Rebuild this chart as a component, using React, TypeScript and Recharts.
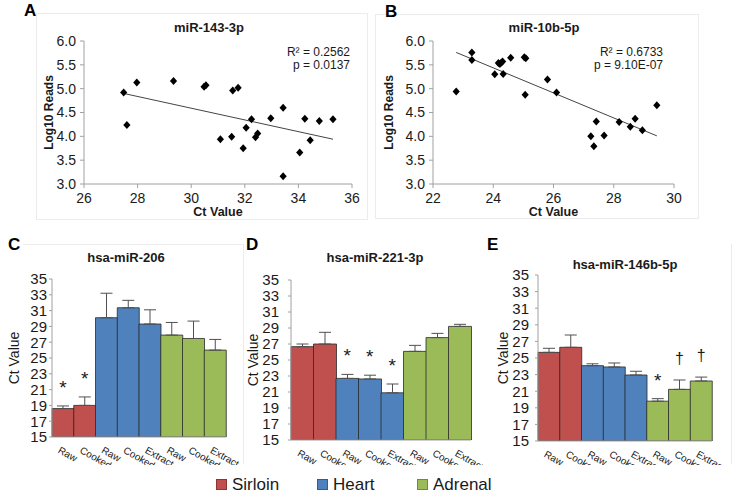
import React from "react";
import {
  ScatterChart,
  Scatter,
  ComposedChart,
  Bar,
  Cell,
  ErrorBar,
  XAxis,
  YAxis,
  ReferenceLine,
} from "recharts";

// ---- panel A: miR-143-3p ----
const miR143Ct = [27.48, 27.6, 27.97, 29.34, 30.48, 30.55, 31.55, 31.75, 31.09, 31.51, 31.94, 32.05, 32.25, 32.4, 32.48, 32.97, 33.43, 33.43, 34.05, 34.24, 34.44, 34.78, 35.29];
const miR143Reads = [4.92, 4.24, 5.13, 5.16, 5.04, 5.07, 4.96, 5.02, 3.94, 3.99, 3.75, 4.18, 4.36, 3.98, 4.06, 4.38, 4.6, 3.16, 3.66, 4.37, 3.92, 4.32, 4.36];
const miR143Trend = [
  { x: 27.48, y: 4.9 },
  { x: 35.29, y: 3.94 },
];
const miR143Stats = ["R² = 0.2562", "p = 0.0137"];

// ---- panel B: miR-10b-5p ----
const miR10bCt = [22.77, 23.29, 23.29, 24.05, 24.17, 24.22, 24.27, 24.31, 24.33, 24.58, 25.03, 25.08, 25.06, 25.8, 26.1, 27.24, 27.34, 27.42, 27.68, 28.18, 28.55, 28.71, 28.95, 29.43];
const miR10bReads = [4.94, 5.76, 5.6, 5.3, 5.54, 5.52, 5.55, 5.57, 5.31, 5.65, 5.66, 5.64, 4.87, 5.19, 4.92, 4.0, 3.79, 4.31, 4.02, 4.3, 4.2, 4.37, 4.13, 4.65];
const miR10bTrend = [
  { x: 22.77, y: 5.76 },
  { x: 29.43, y: 4.01 },
];
const miR10bStats = ["R² = 0.6733", "p = 9.10E-07"];

const readsTicks = [3.0, 3.5, 4.0, 4.5, 5.0, 5.5, 6.0];

// ---- bar panels C, D, E ----
const prepLabels = ["Raw", "Cooked", "Raw", "Cooked", "Extract", "Raw", "Cooked", "Extract"];
const tissueOf = ["Sirloin", "Sirloin", "Heart", "Heart", "Heart", "Adrenal", "Adrenal", "Adrenal"];
const tissues = ["Sirloin", "Heart", "Adrenal"];
const ctTicks = [15, 17, 19, 21, 23, 25, 27, 29, 31, 33, 35];

const miR206Mean = [18.6, 19.0, 30.1, 31.36, 29.3, 27.9, 27.47, 26.0];
const miR206Err = [0.33, 1.07, 3.1, 0.94, 1.8, 1.6, 2.2, 1.35];
const miR206Marks = ["*", "*", "", "", "", "", "", ""];

const miR221Mean = [26.67, 27.0, 22.7, 22.63, 20.9, 26.08, 27.8, 29.2];
const miR221Err = [0.33, 1.46, 0.5, 0.47, 1.1, 0.75, 0.53, 0.26];
const miR221Marks = ["", "", "*", "*", "*", "", "", ""];

const miR146Mean = [25.68, 26.29, 24.08, 23.92, 22.95, 19.8, 21.22, 22.23];
const miR146Err = [0.49, 1.48, 0.22, 0.48, 0.45, 0.3, 1.13, 0.47];
const miR146Marks = ["", "", "", "", "", "*", "†", "†"];

const FONT = '"Liberation Sans", Arial, Helvetica, sans-serif';
const tissueColor: Record<string, string> = {
  Sirloin: "#c0504d",
  Heart: "#4f81bd",
  Adrenal: "#9bbb59",
};
const legendBorder: Record<string, string> = {
  Sirloin: "#8c3532",
  Heart: "#355d8c",
  Adrenal: "#6f8a3b",
};
const axisGray = "#a0a0a0";

const Diamond = (props: any) => {
  const { cx, cy } = props;
  if (cx == null || cy == null) return <g />;
  return (
    <polygon
      points={`${cx},${cy - 4} ${cx + 3.6},${cy} ${cx},${cy + 4} ${cx - 3.6},${cy}`}
      fill="#000"
    />
  );
};

function ScatterPanel(props: {
  left: number;
  top: number;
  width: number;
  height: number;
  xs: number[];
  ys: number[];
  xTicks: number[];
  trend: { x: number; y: number }[];
  yAxisWidth: number;
  right: number;
  labelOffset: number;
}) {
  const data = props.xs.map((x, i) => ({ x, y: props.ys[i] }));
  const xDomain = [props.xTicks[0], props.xTicks[props.xTicks.length - 1]];
  return (
    <div style={{ position: "absolute", left: props.left, top: props.top }}>
      <ScatterChart
        width={props.width}
        height={props.height}
        margin={{ top: 28, right: props.right, bottom: 0, left: 0 }}
      >
        <XAxis
          type="number"
          dataKey="x"
          domain={xDomain}
          ticks={props.xTicks}
          interval={0}
          height={35}
          tick={{ fill: "#1a1a1a", fontSize: 14, fontFamily: FONT }}
          tickSize={4}
          tickMargin={5}
          axisLine={{ stroke: axisGray }}
          tickLine={{ stroke: axisGray }}
          label={{
            value: "Ct Value",
            position: "insideBottom",
            offset: 3,
            style: { fontSize: 12.5, fontWeight: "bold", fill: "#1a1a1a", fontFamily: FONT },
          }}
        />
        <YAxis
          type="number"
          dataKey="y"
          domain={[3, 6]}
          ticks={readsTicks}
          interval={0}
          width={props.yAxisWidth}
          tickFormatter={(v: number) => v.toFixed(1)}
          tick={{ fill: "#1a1a1a", fontSize: 14, fontFamily: FONT }}
          tickSize={4}
          tickMargin={4}
          axisLine={{ stroke: axisGray }}
          tickLine={{ stroke: axisGray }}
          label={{
            value: "Log10 Reads",
            angle: -90,
            position: "insideLeft",
            offset: props.labelOffset,
            style: { textAnchor: "middle", fontSize: 12, fontWeight: "bold", fill: "#1a1a1a", fontFamily: FONT },
          }}
        />
        <ReferenceLine
          segment={props.trend}
          stroke="#444"
          strokeWidth={1}
          ifOverflow="visible"
        />
        <Scatter data={data} shape={<Diamond />} isAnimationActive={false} />
      </ScatterChart>
    </div>
  );
}

const PrepTick = (props: any) => {
  const { x, y, payload } = props;
  return (
    <g transform={`translate(${x - 2},${y + 1}) rotate(30)`}>
      <text x={0} y={0} dy="0.71em" textAnchor="start" fontSize={10} fill="#1a1a1a" fontFamily={FONT}>
        {prepLabels[payload.value]}
      </text>
    </g>
  );
};

const MarkShape = (props: any) => {
  const { cx, cy, payload } = props;
  if (!payload || !payload.mark || cx == null || cy == null) return <g />;
  const dagger = payload.mark === "†";
  return (
    <text
      x={cx}
      y={dagger ? cy - 16 : cy - 12}
      textAnchor="middle"
      fontSize={dagger ? 16 : 19}
      fill="#1a1a1a"
      fontFamily={FONT}
    >
      {payload.mark}
    </text>
  );
};

function BarPanel(props: {
  left: number;
  top: number;
  width: number;
  height: number;
  means: number[];
  errs: number[];
  marks: string[];
  margin: { top: number; right: number; bottom: number; left: number };
  yAxisWidth: number;
  xAxisHeight: number;
  tickMargin: number;
  labelOffset: number;
}) {
  const data = props.means.map((m, i) => ({
    slot: i,
    mean: m,
    errRange: [0, props.errs[i]],
    top: m + props.errs[i],
    mark: props.marks[i],
  }));
  return (
    <div style={{ position: "absolute", left: props.left, top: props.top }}>
      <ComposedChart
        width={props.width}
        height={props.height}
        data={data}
        margin={props.margin}
        barCategoryGap={0}
        barGap={0}
      >
        <XAxis
          dataKey="slot"
          type="category"
          height={props.xAxisHeight}
          tick={<PrepTick />}
          tickLine={false}
          interval={0}
          axisLine={{ stroke: axisGray }}
        />
        <YAxis
          type="number"
          domain={[15, 35]}
          ticks={ctTicks}
          interval={0}
          width={props.yAxisWidth}
          tick={{ fill: "#1a1a1a", fontSize: 15, fontFamily: FONT }}
          tickSize={3}
          tickMargin={props.tickMargin}
          axisLine={{ stroke: axisGray }}
          tickLine={{ stroke: axisGray }}
          allowDataOverflow
          label={{
            value: "Ct Value",
            angle: -90,
            position: "insideLeft",
            offset: props.labelOffset,
            style: { textAnchor: "middle", fontSize: 14, fill: "#1a1a1a", fontFamily: FONT },
          }}
        />
        <Bar dataKey="mean" stroke="#2a2a2a" strokeWidth={0.8} isAnimationActive={false}>
          {data.map((d) => (
            <Cell key={d.slot} fill={tissueColor[tissueOf[d.slot]]} />
          ))}
          <ErrorBar dataKey="errRange" direction="y" width={6} stroke="#505050" strokeWidth={1} isAnimationActive={false} />
        </Bar>
        <Scatter dataKey="top" shape={<MarkShape />} isAnimationActive={false} />
      </ComposedChart>
    </div>
  );
}

const abs = (left: number, top: number, extra: React.CSSProperties = {}): React.CSSProperties => ({
  position: "absolute",
  left,
  top,
  ...extra,
});

const panelLetter: React.CSSProperties = { fontSize: 17, fontWeight: "bold", color: "#000", lineHeight: "17px" };
const titleStyle: React.CSSProperties = { fontSize: 13, fontWeight: "bold", color: "#1a1a1a", lineHeight: "14px", transform: "translateX(-50%)", whiteSpace: "nowrap" };
const statStyle: React.CSSProperties = { fontSize: 12, color: "#1a1a1a", lineHeight: "13px", textAlign: "right", whiteSpace: "nowrap" };

export default function App() {
  return (
    <div
      style={{
        position: "absolute",
        left: 0,
        top: 0,
        width: 733,
        height: 493,
        background: "#fff",
        fontFamily: FONT,
        overflow: "hidden",
      }}
    >
      {/* faint panel frames */}
      <div style={abs(36, 13, { width: 330, height: 205, border: "1px solid #ececec" })} />
      <div style={abs(375, 14, { width: 322, height: 203, border: "1px solid #ececec" })} />
      <div style={abs(23, 244, { width: 220, height: 1, background: "#ececec" })} />
      <div style={abs(243, 244, { width: 1, height: 220, background: "#ececec" })} />
      <div style={abs(731, 244, { width: 1, height: 220, background: "#ececec" })} />

      <ScatterPanel
        left={36}
        top={13}
        width={331}
        height={206}
        xs={miR143Ct}
        ys={miR143Reads}
        xTicks={[26, 28, 30, 32, 34, 36]}
        trend={miR143Trend}
        yAxisWidth={48}
        right={15}
        labelOffset={13}
      />
      <ScatterPanel
        left={375}
        top={13}
        width={323}
        height={206}
        xs={miR10bCt}
        ys={miR10bReads}
        xTicks={[22, 24, 26, 28, 30]}
        trend={miR10bTrend}
        yAxisWidth={58}
        right={24}
        labelOffset={14}
      />

      <BarPanel
        left={0}
        top={245}
        width={240}
        height={220}
        means={miR206Mean}
        errs={miR206Err}
        marks={miR206Marks}
        margin={{ top: 34, right: 14, bottom: 0, left: 0 }}
        yAxisWidth={52}
        xAxisHeight={28}
        tickMargin={2}
        labelOffset={14}
      />
      <BarPanel
        left={243}
        top={245}
        width={240}
        height={220}
        means={miR221Mean}
        errs={miR221Err}
        marks={miR221Marks}
        margin={{ top: 35, right: 12, bottom: 0, left: 0 }}
        yAxisWidth={48}
        xAxisHeight={25}
        tickMargin={9}
        labelOffset={10}
      />
      <BarPanel
        left={486}
        top={245}
        width={247}
        height={220}
        means={miR146Mean}
        errs={miR146Err}
        marks={miR146Marks}
        margin={{ top: 30, right: 21, bottom: 0, left: 0 }}
        yAxisWidth={52}
        xAxisHeight={24}
        tickMargin={6}
        labelOffset={17}
      />

      {/* panel letters */}
      <div style={abs(24, 2, panelLetter)}>A</div>
      <div style={abs(385, 3, panelLetter)}>B</div>
      <div style={abs(8, 236, panelLetter)}>C</div>
      <div style={abs(246, 236, panelLetter)}>D</div>
      <div style={abs(487, 236, panelLetter)}>E</div>

      {/* titles */}
      <div style={abs(209, 21, titleStyle)}>miR-143-3p</div>
      <div style={abs(544, 21, titleStyle)}>miR-10b-5p</div>
      <div style={abs(126, 251, titleStyle)}>hsa-miR-206</div>
      <div style={abs(375, 251, titleStyle)}>hsa-miR-221-3p</div>
      <div style={abs(625, 258, titleStyle)}>hsa-miR-146b-5p</div>

      {/* regression stats */}
      <div style={abs(250, 46, { ...statStyle, width: 100 })}>
        {miR143Stats.map((s) => (
          <div key={s}>{s}</div>
        ))}
      </div>
      <div style={abs(563, 46, { ...statStyle, width: 100 })}>
        {miR10bStats.map((s) => (
          <div key={s}>{s}</div>
        ))}
      </div>

      {/* shared legend */}
      {tissues.map((t, i) => (
        <div key={t} style={abs([216, 317, 417][i], 475, { display: "flex", alignItems: "center", whiteSpace: "nowrap" })}>
          <span
            style={{
              display: "inline-block",
              width: 9,
              height: 9,
              background: tissueColor[t],
              border: `1px solid ${legendBorder[t]}`,
              marginRight: 5,
            }}
          />
          <span style={{ fontSize: 17, color: "#1a1a1a", lineHeight: "19px" }}>{t}</span>
        </div>
      ))}
    </div>
  );
}
